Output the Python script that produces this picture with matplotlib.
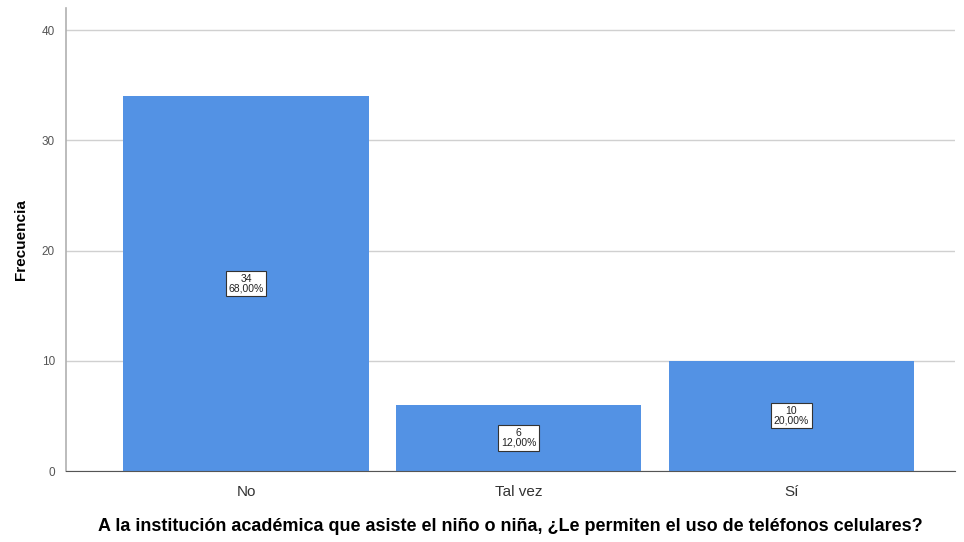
import matplotlib
matplotlib.use("Agg")
import matplotlib.pyplot as plt

categories = ["No", "Tal vez", "Sí"]
counts = [34, 6, 10]
percents = ["68,00%", "12,00%", "20,00%"]
y_ticks = [0, 10, 20, 30, 40]

plt.rcParams["font.family"] = ["Liberation Sans", "DejaVu Sans"]

fig = plt.figure(figsize=(9.64, 5.42), dpi=100)
ax = fig.add_axes([66 / 964, 71 / 542, (955 - 66) / 964, (534 - 71) / 542])

x = range(len(categories))
ax.bar(x, counts, width=0.9, color="#5392e4", zorder=2)

for i, (c, p) in enumerate(zip(counts, percents)):
    ax.text(i, c / 2, f"{c}\n{p}", ha="center", va="center", fontsize=7.5,
            linespacing=1.0, color="#222222", zorder=3,
            bbox=dict(boxstyle="square,pad=0.25", fc="white", ec="#333333", lw=0.8))

ax.set_xlim(-0.66, 2.6)
ax.set_ylim(0, 42)
ax.set_yticks(y_ticks)
ax.set_xticks(list(x))
ax.set_xticklabels(categories, fontsize=11, color="#333333")
ax.tick_params(axis="y", labelsize=8.5, labelcolor="#555555", length=0, pad=8)
ax.tick_params(axis="x", length=0, pad=10)
ax.yaxis.grid(True, color="#d0d0d0", lw=1, zorder=0)

for side in ("top", "right"):
    ax.spines[side].set_visible(False)
ax.spines["left"].set_color("#b0b0b0")
ax.spines["left"].set_linewidth(1.2)
ax.spines["bottom"].set_color("#555555")

ax.set_ylabel("Frecuencia", fontsize=11, fontweight="bold", labelpad=10)
ax.set_xlabel("A la institución académica que asiste el niño o niña, ¿Le permiten el uso de teléfonos celulares?",
              fontsize=13, fontweight="bold", labelpad=14)

fig.savefig("out.png", dpi=100)
